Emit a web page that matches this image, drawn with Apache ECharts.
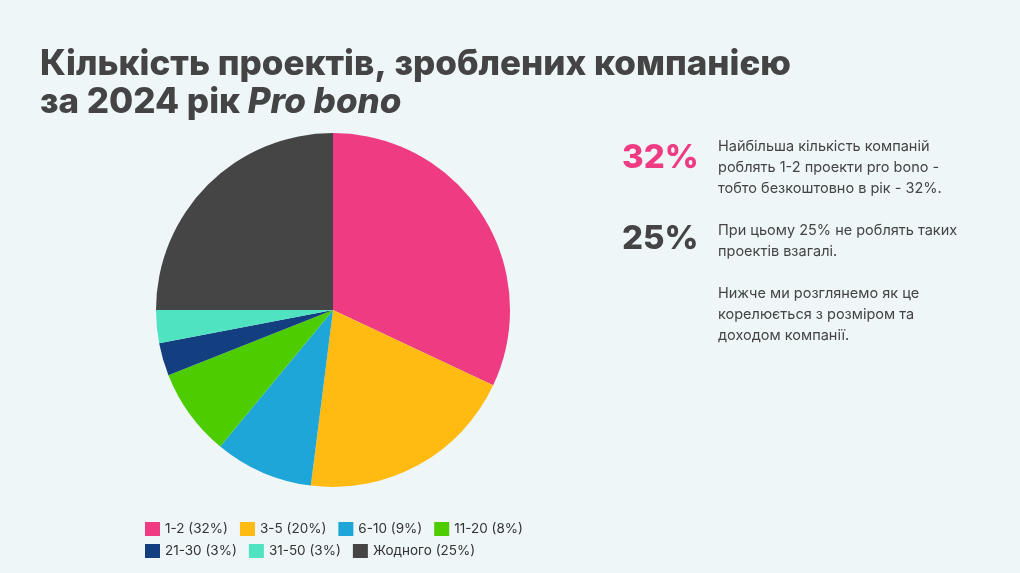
<!DOCTYPE html>
<html>
<head>
<meta charset="utf-8">
<script src="https://cdn.jsdelivr.net/npm/echarts@6/dist/echarts.min.js"></script>
<style>
html,body{margin:0;padding:0;background:#EEF6F8;}
#c{width:1020px;height:573px;}
</style>
</head>
<body>
<div id="c"></div>
<script>
const categories = ['1-2 (32%)', '3-5 (20%)', '6-10 (9%)', '11-20 (8%)', '21-30 (3%)', '31-50 (3%)', 'Жодного (25%)'];
const values = [32, 20, 9, 8, 3, 3, 25];
const colors = ['#EF3B82', '#FFBB12', '#1FA6D9', '#4DCC00', '#133F80', '#50E3C2', '#454545'];
const legendRow1 = categories.slice(0, 4);
const legendRow2 = categories.slice(4);

const chart = echarts.init(document.getElementById('c'));
const font = 'Inter';
const para = { fontFamily: font, fontSize: 14.5, color: '#444', lineHeight: 21, fontWeight: 'normal' };

chart.setOption({
  backgroundColor: '#EEF6F8',
  title: [
    {
      text: '{a|Кількість проектів, зроблених компанією}\n{a|за 2024 рік }{b|Pro bono}',
      left: 35, top: 40,
      textStyle: {
        rich: {
          a: { fontFamily: font, fontSize: 35, fontWeight: 800, color: '#444444', lineHeight: 38 },
          b: { fontFamily: font, fontSize: 35, fontWeight: 800, fontStyle: 'italic', color: '#444444', lineHeight: 38 }
        }
      }
    },
    { text: '32%', left: 617, top: 137, textStyle: { fontFamily: font, fontSize: 33, fontWeight: 800, color: '#EF3B82' } },
    { text: '25%', left: 617, top: 218, textStyle: { fontFamily: font, fontSize: 33, fontWeight: 800, color: '#444444' } },
    { text: 'Найбільша кількість компаній\nроблять 1-2 проекти pro bono -\nтобто безкоштовно в рік - 32%.', left: 718, top: 136, padding: 0, textStyle: para },
    { text: 'При цьому 25% не роблять таких\nпроектів взагалі.', left: 718, top: 220, padding: 0, textStyle: para },
    { text: 'Нижче ми розглянемо як це\nкорелюється з розміром та\nдоходом компанії.', left: 718, top: 283, padding: 0, textStyle: para }
  ],
  color: colors,
  legend: [
    {
      data: legendRow1, left: 140, top: 517, itemWidth: 15, itemHeight: 14, itemGap: 12,
      icon: 'rect', textStyle: { fontFamily: font, fontSize: 13.5, color: '#333' }
    },
    {
      data: legendRow2, left: 140, top: 539, itemWidth: 15, itemHeight: 14, itemGap: 12,
      icon: 'rect', textStyle: { fontFamily: font, fontSize: 13.5, color: '#333' }
    }
  ],
  series: [{
    type: 'pie',
    center: [333, 310],
    radius: 177,
    startAngle: 90,
    clockwise: true,
    label: { show: false },
    labelLine: { show: false },
    itemStyle: { borderWidth: 0 },
    emphasis: { disabled: true },
    animation: false,
    data: categories.map((name, i) => ({ name, value: values[i] }))
  }]
});
</script>
</body>
</html>
